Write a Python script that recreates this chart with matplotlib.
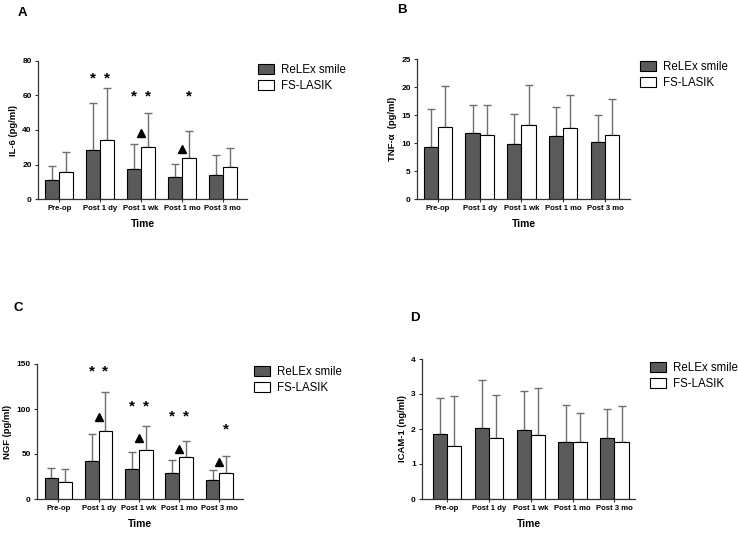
import matplotlib
matplotlib.use("Agg")
import matplotlib.pyplot as plt
from matplotlib.patches import Patch
import numpy as np

plt.rcParams['font.family'] = ['Liberation Sans', 'DejaVu Sans']

categories = ["Pre-op", "Post 1 dy", "Post 1 wk", "Post 1 mo", "Post 3 mo"]
series_names = ["ReLEx smile", "FS-LASIK"]

# IL-6 (pg/ml)
il6_smile = [10.8, 28.4, 17.2, 12.6, 14.1]
il6_smile_err = [19.3, 55.8, 32.0, 20.5, 25.3]
il6_lasik = [15.5, 34.0, 30.1, 23.6, 18.4]
il6_lasik_err = [27.0, 64.5, 50.0, 39.6, 29.4]

# TNF-alpha (pg/ml)
tnf_smile = [9.35, 11.7, 9.8, 11.2, 10.1]
tnf_smile_err = [16.0, 16.8, 15.2, 16.5, 15.0]
tnf_lasik = [12.8, 11.5, 13.3, 12.6, 11.5]
tnf_lasik_err = [20.2, 16.7, 20.4, 18.5, 17.8]

# NGF (pg/ml)
ngf_smile = [23.6, 41.7, 33.2, 28.8, 21.4]
ngf_smile_err = [34.4, 72.0, 51.7, 42.8, 32.1]
ngf_lasik = [18.8, 75.7, 55.0, 46.2, 28.8]
ngf_lasik_err = [32.9, 119.3, 80.9, 65.0, 47.3]

# ICAM-1 (ng/ml)
icam_smile = [1.86, 2.02, 1.97, 1.63, 1.74]
icam_smile_err = [2.89, 3.41, 3.08, 2.68, 2.57]
icam_lasik = [1.52, 1.74, 1.83, 1.63, 1.63]
icam_lasik_err = [2.94, 2.97, 3.17, 2.46, 2.66]

# significance marks: (group index, bar 0=smile/1=lasik/0.5=between, y value)
il6_stars = [(1, 0, 70), (1, 1, 70), (2, 0, 59.3), (2, 1, 59.3), (3, 1, 59.3)]
il6_tri = [(2, 0.5, 38.5), (3, 0.5, 29)]
ngf_stars = [(1, 0, 142), (1, 1, 142), (2, 0, 102.7), (2, 1, 102.7),
             (3, 0, 91.6), (3, 1, 91.6), (4, 1, 77.6)]
ngf_tri = [(1, 0.5, 91.6), (2, 0.5, 68), (3, 0.5, 55.8), (4, 0.5, 40.6)]

W, H = 739, 534
fig = plt.figure(figsize=(W / 100, H / 100), dpi=100)

DARK = "#5a5a5a"
ERRC = "#707070"
bw = 0.34


def fpos(l, r, t, b):
    return [l / W, 1 - b / H, (r - l) / W, (b - t) / H]


def panel(pos, s, se, l, le, ymax, ystep, ylabel, xlim, letter, letter_xy, leg_xy,
          stars=(), tris=()):
    ax = fig.add_axes(fpos(*pos))
    x = np.arange(len(categories))
    s = np.array(s); l = np.array(l)
    ax.errorbar(x - bw / 2, s, yerr=[np.zeros(len(s)), np.array(se) - s], fmt='none',
                ecolor=ERRC, elinewidth=1.0, capsize=3, capthick=1.0, zorder=1)
    ax.errorbar(x + bw / 2, l, yerr=[np.zeros(len(l)), np.array(le) - l], fmt='none',
                ecolor=ERRC, elinewidth=1.0, capsize=3, capthick=1.0, zorder=1)
    ax.bar(x - bw / 2, s, bw, color=DARK, edgecolor="black", linewidth=0.8, zorder=2)
    ax.bar(x + bw / 2, l, bw, color="white", edgecolor="black", linewidth=0.8, zorder=2)
    for g, b, yv in stars:
        xx = g - bw / 2 + b * bw
        ax.text(xx, yv, "*", ha="center", va="center", fontsize=11, fontweight="bold")
    for g, b, yv in tris:
        xx = g - bw / 2 + b * bw
        ax.plot([xx], [yv], marker="^", color="black", markersize=6, zorder=3)
    ax.set_xlim(*xlim)
    ax.set_ylim(0, ymax)
    ax.set_yticks(np.arange(0, ymax + ystep / 2, ystep))
    ax.set_xticks(x)
    ax.set_xticklabels(categories, fontsize=5.6, fontweight="bold")
    for t in ax.get_yticklabels():
        t.set_fontsize(6); t.set_fontweight("bold")
    ax.spines["top"].set_visible(False)
    ax.spines["right"].set_visible(False)
    for sp in ("left", "bottom"):
        ax.spines[sp].set_linewidth(0.9)
        ax.spines[sp].set_color("#333333")
    ax.tick_params(axis="both", length=2.5, width=0.8, pad=2, color="#333333")
    ax.set_ylabel(ylabel, fontsize=6.8, fontweight="bold", labelpad=3)
    ax.set_xlabel("Time", fontsize=7.4, fontweight="bold", labelpad=5)
    fig.text(letter_xy[0] / W, 1 - letter_xy[1] / H, letter, fontsize=9.5,
             fontweight="bold", ha="left", va="center")
    handles = [Patch(facecolor=DARK, edgecolor="black", linewidth=0.8),
               Patch(facecolor="white", edgecolor="black", linewidth=0.8)]
    fig.legend(handles, series_names, loc="upper left",
               bbox_to_anchor=(leg_xy[0] / W, 1 - leg_xy[1] / H),
               frameon=False, fontsize=8.3, handlelength=1.4, handleheight=0.9,
               handletextpad=0.6, labelspacing=0.35, borderpad=0, borderaxespad=0)
    return ax


panel((38, 247, 61, 199), il6_smile, il6_smile_err, il6_lasik, il6_lasik_err,
      80, 20, "IL-6 (pg/ml)", (-0.52, 4.59), "A", (18, 13), (258, 64),
      stars=il6_stars, tris=il6_tri)
panel((417, 630, 59, 199), tnf_smile, tnf_smile_err, tnf_lasik, tnf_lasik_err,
      25, 5, "TNF-α  (pg/ml)", (-0.5, 4.6), "B", (397, 10), (640, 61))
panel((37, 243, 364, 499), ngf_smile, ngf_smile_err, ngf_lasik, ngf_lasik_err,
      150, 50, "NGF (pg/ml)", (-0.53, 4.585), "C", (14, 308), (254, 366),
      stars=ngf_stars, tris=ngf_tri)
panel((422, 635, 359, 499), icam_smile, icam_smile_err, icam_lasik, icam_lasik_err,
      4, 1, "ICAM-1 (ng/ml)", (-0.6, 4.49), "D", (410, 318), (650, 362))

fig.savefig("out.png", dpi=100)
